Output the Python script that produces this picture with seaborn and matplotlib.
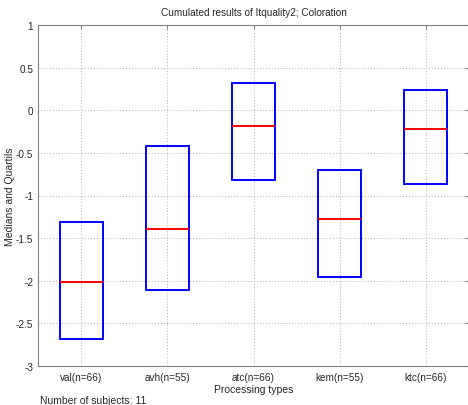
import matplotlib
matplotlib.use("Agg")
import matplotlib.pyplot as plt
import seaborn as sns
import pandas as pd

categories = ["val(n=66)", "avh(n=55)", "atc(n=66)", "kem(n=55)", "ktc(n=66)"]
q1 = [-2.68, -2.11, -0.82, -1.96, -0.865]
medians = [-2.02, -1.395, -0.19, -1.275, -0.22]
q3 = [-1.305, -0.415, 0.32, -0.70, 0.235]
yticks = [-3, -2.5, -2, -1.5, -1, -0.5, 0, 0.5, 1]
ytick_labels = ["-3", "-2.5", "-2", "-1.5", "-1", "-0.5", "0", "0.5", "1"]

rows = []
for c, a, m, b in zip(categories, q1, medians, q3):
    for v in (a, a, m, b, b):
        rows.append({"cat": c, "val": v})
df = pd.DataFrame(rows)

sns.set_style("white")
plt.rcParams["font.family"] = ["Liberation Sans", "DejaVu Sans"]
plt.rcParams["font.size"] = 7.5

fig = plt.figure(figsize=(4.68, 4.06), dpi=100)
ax = fig.add_axes([38 / 468, 39 / 406, 431 / 468, 341 / 406])

sns.boxplot(data=df, x="cat", y="val", order=categories, ax=ax, width=0.5,
            whis=0, showcaps=False, showfliers=False,
            boxprops=dict(facecolor="none", edgecolor="#0000ff", linewidth=1.4),
            medianprops=dict(color="#ff0000", linewidth=1.4),
            whiskerprops=dict(color="#0000ff", linewidth=0))

ax.set_xlim(-0.5, 4.5)
ax.set_ylim(-3, 1)
ax.set_yticks(yticks)
ax.set_yticklabels(ytick_labels)
ax.grid(True, linestyle=(0, (1, 2)), color="#b0b0b0", linewidth=0.7)
ax.set_axisbelow(True)
for s in ax.spines.values():
    s.set_color("#808080")
    s.set_linewidth(0.8)
ax.tick_params(direction="in", length=3, color="#808080", labelsize=7.2, pad=4)
ax.tick_params(axis="y", pad=3.5)
ax.tick_params(axis="x", top=True)
ax.tick_params(axis="y", right=True)
ax.set_title("Cumulated results of Itquality2; Coloration", fontsize=7.2, pad=7)
ax.set_xlabel("Processing types", fontsize=7.5, labelpad=2)
ax.set_ylabel("Medians and Quartils", fontsize=7.5)
ax.yaxis.set_label_coords((15.5 - 38) / 431, 0.5)
fig.text(40 / 468, 1 - 401 / 406, "Number of subjects: 11", fontsize=7.5, va="center")

fig.savefig("out.png", dpi=100)
